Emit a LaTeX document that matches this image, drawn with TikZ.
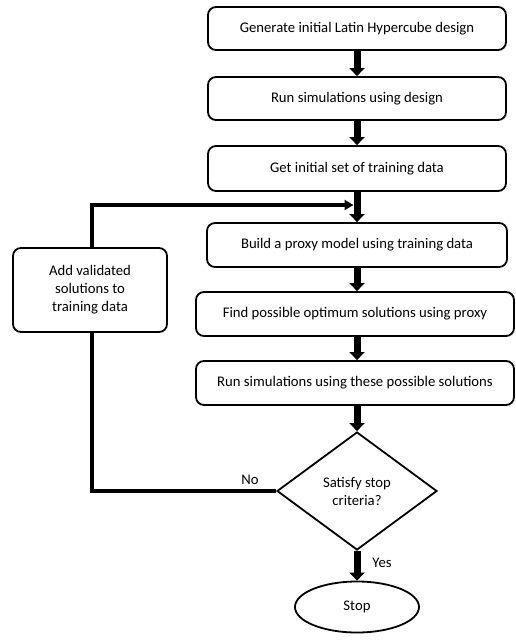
\documentclass[tikz,border=0pt]{standalone}
\usepackage{fontspec}
\setmainfont{Carlito}
\usetikzlibrary{arrows.meta,shapes.geometric}
\begin{document}
\begin{tikzpicture}[x=1pt,y=-1pt,
  txt/.style={font=\fontsize{14.7}{18}\selectfont},
  stepbox/.style={draw,line width=1.8pt,rounded corners=8pt,align=center,txt,inner sep=2pt},
  flow/.style={line width=7pt,-{Triangle[width=15pt,length=8pt]}},
  loopline/.style={line width=4pt},
  lbl/.style={txt,inner sep=0pt}]
\useasboundingbox (0,0) rectangle (516,641);
\node[stepbox,minimum width=298pt,minimum height=43pt] (b1) at (357,28.5) {Generate initial Latin Hypercube design};
\node[stepbox,minimum width=298pt,minimum height=43pt] (b2) at (357,98.5) {Run simulations using design};
\node[stepbox,minimum width=298pt,minimum height=45pt] (b3) at (357,168.5) {Get initial set of training data};
\node[stepbox,minimum width=300pt,minimum height=44pt] (b4) at (357,245) {Build a proxy model using training data};
\node[stepbox,minimum width=318pt,minimum height=44pt] (b5) at (355,314) {Find possible optimum solutions using proxy};
\node[stepbox,minimum width=318pt,minimum height=44pt] (b6) at (355,383) {Run simulations using these possible solutions};
\node[stepbox,minimum width=154pt,minimum height=84pt] (add) at (90,290) {Add validated\\solutions to\\training data};
\node[draw,line width=1.8pt,diamond,minimum width=160pt,minimum height=118pt,inner sep=0pt,align=center,txt] (dec) at (357,491) {Satisfy stop\\criteria?};
\node[draw,line width=1.8pt,ellipse,minimum width=124pt,minimum height=51pt,txt] (stop) at (357,607) {Stop};
\coordinate (merge) at (357,205);
\coordinate (turn) at (92,205);
\coordinate (corner) at (92,491);
% main sequence, all arrows on the centre column x = 357
\draw[flow] (b1) -- (b2);
\draw[flow] (b2) -- (b3);
\draw[line width=7pt] (b3.south) -- (merge);
\draw[flow] (merge) -- (b4.north);
\draw[flow] (b4.south) -- (b4.south |- b5.north);
\draw[flow] (b4.south |- b5.south) -- (b4.south |- b6.north);
\draw[flow] (b4.south |- b6.south) -- (dec.north);
\draw[flow] (dec.south) -- (stop.north);
% feedback loop
\draw[loopline] (dec.west) -- (corner) -- (add.south -| corner);
\draw[loopline,-{Triangle[width=10pt,length=9pt]}] (add.north -| turn) -- (turn) -- ([xshift=-3.5pt]merge);
\node[lbl] (no) at (250,480) {No};
\node[lbl] (yes) at (382,563) {Yes};
\end{tikzpicture}
\end{document}
